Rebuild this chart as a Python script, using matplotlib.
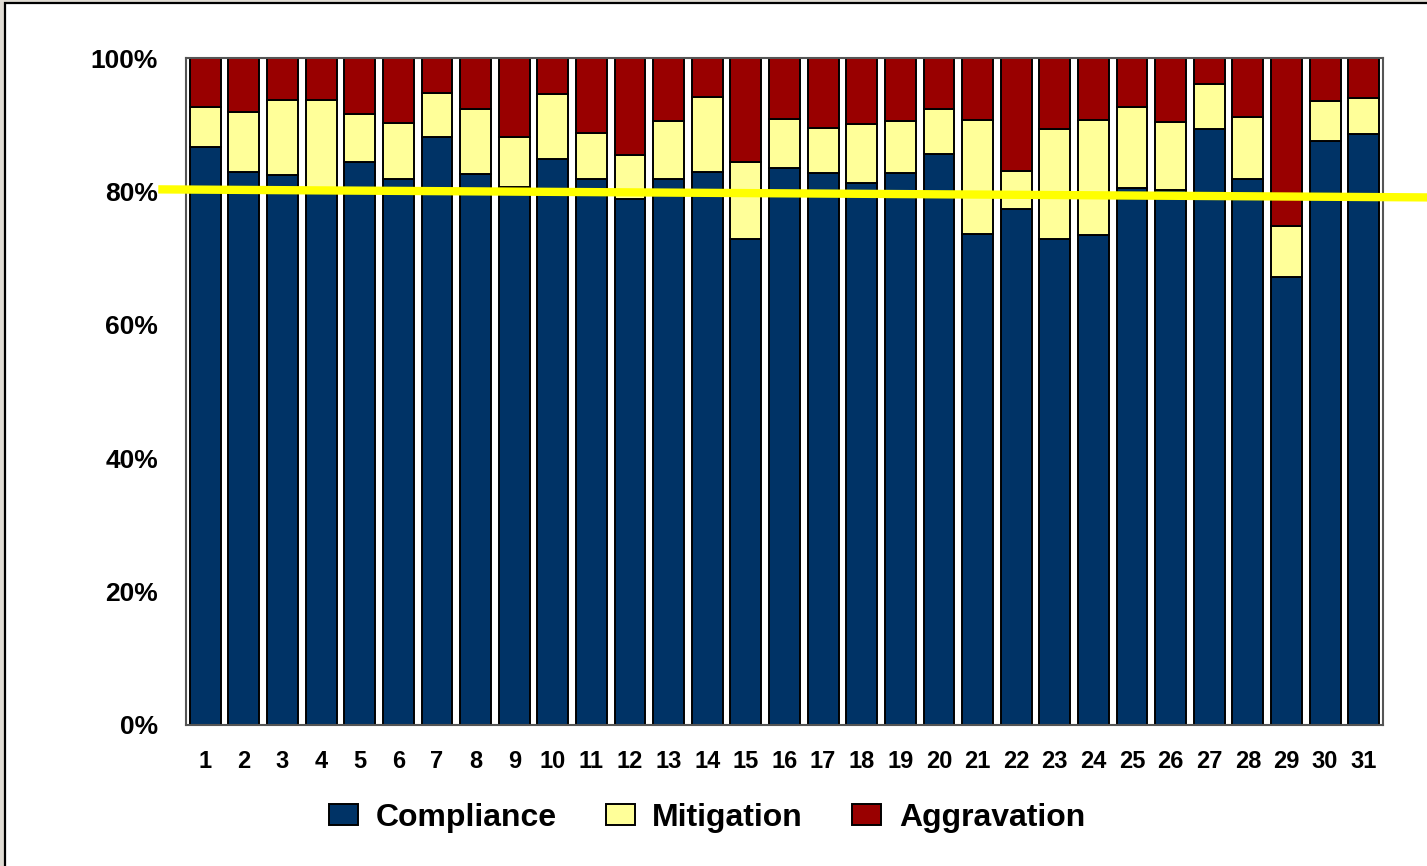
import numpy as np
import matplotlib.pyplot as plt
from matplotlib.patches import Rectangle

plt.rcParams['font.family'] = ['Liberation Sans', 'DejaVu Sans']
plt.rcParams['font.weight'] = 'bold'

groups = [str(i) for i in range(1, 32)]
# cumulative tops (percent)
compliance = [86.6, 82.9, 82.4, 80.5, 84.4, 81.8, 88.1, 82.6, 80.6, 84.8,
              81.8, 78.8, 81.8, 82.9, 72.8, 83.5, 82.7, 81.2, 82.7, 85.6,
              73.6, 77.3, 72.8, 73.4, 80.5, 80.2, 89.3, 81.8, 67.1, 87.5, 88.6]
comp_plus_mit = [92.6, 91.9, 93.7, 93.7, 91.6, 90.2, 94.7, 92.3, 88.1, 94.6,
                 88.7, 85.4, 90.5, 94.1, 84.4, 90.8, 89.5, 90.1, 90.5, 92.3,
                 90.7, 83.0, 89.3, 90.7, 92.6, 90.4, 96.1, 91.1, 74.8, 93.5, 94.0]
mitigation = [b - a for a, b in zip(compliance, comp_plus_mit)]
aggravation = [100 - b for b in comp_plus_mit]

# reference line (yellow) end points
line_x = [-0.11, 32.63]
line_y = [80.3, 79.1]

fig = plt.figure(figsize=(14.27, 8.66), dpi=100, facecolor='#E0DCD4')
fig.patches.append(Rectangle((5 / 1427, -0.05), 1.1, 1 - 3 / 866 + 0.05,
                             transform=fig.transFigure, facecolor='white',
                             edgecolor='black', linewidth=1.6, zorder=-5))

ax = fig.add_axes([186 / 1427, (866 - 725) / 866, (1383 - 186) / 1427, (725 - 58) / 866])
ax.set_facecolor('white')

x = np.arange(1, 32)
w = 0.8
ax.bar(x, compliance, w, color='#003366', edgecolor='black', linewidth=1.4, label='Compliance')
ax.bar(x, mitigation, w, bottom=compliance, color='#FFFF99', edgecolor='black', linewidth=1.4,
       label='Mitigation')
ax.bar(x, aggravation, w, bottom=comp_plus_mit, color='#990000', edgecolor='black', linewidth=1.4,
       label='Aggravation')

ax.plot(line_x, line_y, color='#FFFF00', linewidth=6, clip_on=False, zorder=5)

ax.set_xlim(0.5, 31.5)
ax.set_ylim(0, 100)
ax.set_xticks(x)
ax.set_xticklabels(groups, fontsize=17, fontweight='bold')
ax.set_yticks([0, 20, 40, 60, 80, 100])
ax.set_yticklabels([f'{v}%' for v in [0, 20, 40, 60, 80, 100]], fontsize=19, fontweight='bold')
ax.tick_params(axis='both', length=0)
ax.tick_params(axis='x', pad=18)
ax.tick_params(axis='y', pad=20)
for s in ax.spines.values():
    s.set_color('#555555')
    s.set_linewidth(1.5)

ax.legend(loc='center', bbox_to_anchor=(707 / 1427, (866 - 818) / 866),
          bbox_transform=fig.transFigure, ncol=3, frameon=False,
          prop={'size': 23, 'weight': 'bold'}, handlelength=0.9, handleheight=0.62,
          columnspacing=1.55, handletextpad=0.55)

plt.savefig('out.png', dpi=100, facecolor=fig.get_facecolor())
